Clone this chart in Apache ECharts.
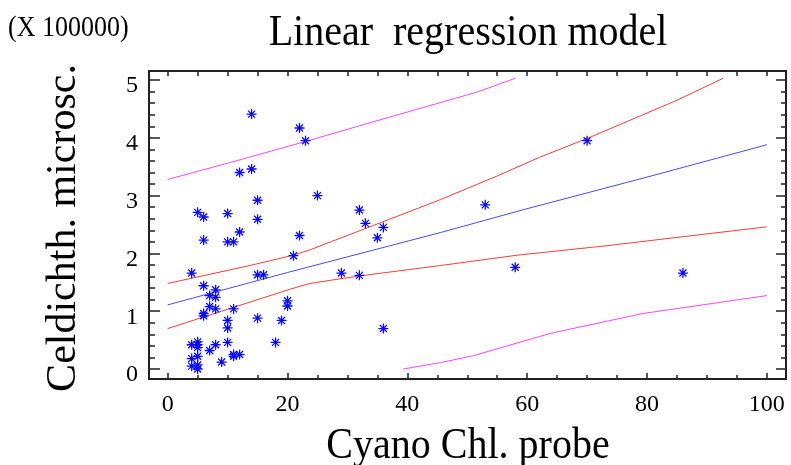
<!DOCTYPE html>
<html>
<head>
<meta charset="utf-8">
<script src="https://cdn.jsdelivr.net/npm/echarts@6/dist/echarts.min.js"></script>
<style>
html,body{margin:0;padding:0;background:#fff;}
#chart{width:791px;height:465px;}
</style>
</head>
<body>
<div id="chart"></div>
<script>
// Observed points: Cyano Chl. probe (x) vs Celdichth. microsc. (y, x 100000)
const pointX = [14,22,23,12,14,15,25,5,6,10,15,32,33,36,35,12,22,6,10,11,53,70,21,4,15,16,29,32,58,86,6,8,7,8,7,8,11,6,6,10,15,20,20,19,10,36,4,5,5,5,7,8,10,18,11,12,11,4,5,9,4,5,5];
const pointY = [4.41,4.17,3.95,3.40,3.46,2.92,3.00,2.71,2.63,2.69,2.59,2.75,2.52,2.45,2.27,2.37,2.31,2.23,2.20,2.20,2.84,3.95,1.96,1.66,1.63,1.63,1.66,1.62,1.76,1.66,1.44,1.37,1.27,1.24,1.08,1.04,1.04,0.96,0.92,0.84,0.88,1.18,1.09,0.84,0.71,0.70,0.42,0.47,0.42,0.37,0.32,0.42,0.46,0.46,0.25,0.25,0.22,0.18,0.22,0.12,0.05,0.07,0.00];

// Fitted line
const fitX = [0,20,45.5,59.5,80,100];
const fitY = [1.11,1.67,2.36,2.76,3.32,3.88];
// Confidence limits for mean
const confUpX = [0,13.7,21,23.7,37,45.5,55,62,70.5,85,92.7];
const confUpY = [1.48,1.79,1.97,2.06,2.59,2.93,3.34,3.66,4.01,4.65,5.03];
const confLoX = [0,20.4,23.7,32,45.5,58.4,73,100];
const confLoY = [0.70,1.38,1.48,1.61,1.79,1.97,2.13,2.46];
// Prediction limits
const predUpX = [0,10,23.8,35.4,51.6,58];
const predUpY = [3.28,3.56,3.96,4.31,4.79,5.03];
const predLoX = [39.3,45.5,51,64,79.3,100];
const predLoY = [0.0,0.11,0.23,0.62,0.96,1.27];

// Tick labels
const xTickLabels = [0,20,40,60,80,100];
const xMinorTicks = [0,5,10,15,20,25,30,35,40,45,50,55,60,65,70,75,80,85,90,95,100];
const yTickLabels = [0,1,2,3,4,5];
const yMinorTicks = [0,0.2,0.4,0.6,0.8,1,1.2,1.4,1.6,1.8,2,2.2,2.4,2.6,2.8,3,3.2,3.4,3.6,3.8,4,4.2,4.4,4.6,4.8,5];

const FONT = '"Liberation Serif", "Times New Roman", serif';
const AX = '#222';
const xMin = -3.12, xMax = 103.2, yMin = -0.173, yMax = 5.156;

function pairs(xs, ys){ return xs.map((x,i)=>[x, ys[i]]); }

const gridBox = {left:149, right:5, top:71, bottom:86};
function xAx(idx, pos, ticks, len, labels){
  return {
    gridIndex: idx, type:'value', position: pos, min:xMin, max:xMax,
    axisLine:{show:false, onZero:false}, splitLine:{show:false},
    axisTick:{show: !!ticks, inside:true, length:len, customValues: ticks || [], lineStyle:{color:AX, width:1.5}},
    axisLabel: labels ? {show:true, customValues: labels, fontSize:24, fontFamily:FONT, color:'#000', margin:14} : {show:false}
  };
}
function yAx(idx, pos, ticks, len, labels){
  return {
    gridIndex: idx, type:'value', position: pos, min:yMin, max:yMax,
    axisLine:{show:false, onZero:false}, splitLine:{show:false},
    axisTick:{show: !!ticks, inside:true, length:len, customValues: ticks || [], lineStyle:{color:AX, width:1.5}},
    axisLabel: labels ? {show:true, customValues: labels, fontSize:24, fontFamily:FONT, color:'#000', margin:11, verticalAlign:'top', lineHeight:12} : {show:false}
  };
}

const starPath = 'path://M4 0 L4 8 M0 4 L8 4 M1.2 1.2 L6.8 6.8 M1.2 6.8 L6.8 1.2';

const chart = echarts.init(document.getElementById('chart'), null, {renderer:'canvas'});
chart.setOption({
  animation:false,
  backgroundColor:'#fff',
  grid:[
    Object.assign({show:true, borderColor:AX, borderWidth:2, backgroundColor:'transparent'}, gridBox),
    Object.assign({}, gridBox),
    Object.assign({}, gridBox),
    Object.assign({}, gridBox)
  ],
  xAxis:[
    xAx(0,'bottom', xTickLabels, 6, xTickLabels),
    xAx(1,'bottom', xMinorTicks, 4, null),
    xAx(2,'top', xMinorTicks, 5, null),
    xAx(3,'top', null, 0, null)
  ],
  yAxis:[
    yAx(0,'left', yTickLabels, 11, yTickLabels),
    yAx(1,'left', yMinorTicks, 6, null),
    yAx(2,'right', yTickLabels, 10, null),
    yAx(3,'right', yMinorTicks, 5, null)
  ],
  graphic:[
    {type:'text', x:8, y:28, scaleY:1.1, style:{text:'(X 100000)', font:'26px '+FONT, fill:'#000', align:'left', verticalAlign:'middle'}},
    {type:'text', x:468, y:33, scaleY:1.12, style:{text:'Linear  regression model', font:'40px '+FONT, fill:'#000', align:'center', verticalAlign:'middle'}},
    {type:'text', x:468, y:446, scaleY:1.12, style:{text:'Cyano Chl. probe', font:'40px '+FONT, fill:'#000', align:'center', verticalAlign:'middle'}},
    {type:'text', x:64, y:228, rotation:Math.PI/2, style:{text:'Celdichth. microsc.', font:'42px '+FONT, fill:'#000', align:'center', verticalAlign:'middle'}}
  ],
  series:[
    {type:'line', xAxisIndex:0, yAxisIndex:0, data:pairs(predUpX,predUpY), showSymbol:false, lineStyle:{color:'#ff44ff', width:1}, clip:true, z:2},
    {type:'line', xAxisIndex:0, yAxisIndex:0, data:pairs(predLoX,predLoY), showSymbol:false, lineStyle:{color:'#ff44ff', width:1}, clip:true, z:2},
    {type:'line', xAxisIndex:0, yAxisIndex:0, data:pairs(confUpX,confUpY), showSymbol:false, lineStyle:{color:'#ff3b3b', width:1}, clip:true, z:2},
    {type:'line', xAxisIndex:0, yAxisIndex:0, data:pairs(confLoX,confLoY), showSymbol:false, lineStyle:{color:'#ff3b3b', width:1}, clip:true, z:2},
    {type:'line', xAxisIndex:0, yAxisIndex:0, data:pairs(fitX,fitY), showSymbol:false, lineStyle:{color:'#4a4aff', width:1}, clip:true, z:2},
    {type:'scatter', xAxisIndex:0, yAxisIndex:0, data:pairs(pointX,pointY), symbol:starPath, symbolSize:10,
      itemStyle:{color:'rgba(0,0,0,0)', borderColor:'#0a0aff', borderWidth:1.3, opacity:1}, z:3}
  ]
});
</script>
</body>
</html>
